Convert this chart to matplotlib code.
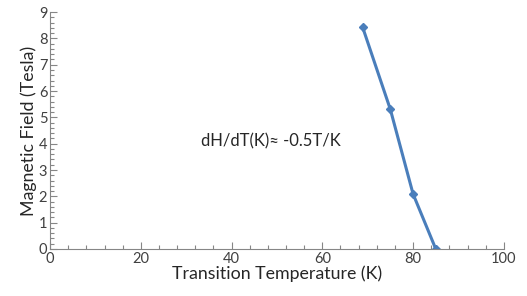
import matplotlib
matplotlib.use("Agg")
import matplotlib.pyplot as plt
from matplotlib.ticker import MultipleLocator

plt.rcParams['font.family'] = ['Lato', 'DejaVu Sans']

temp = [68.9, 75.0, 80.0, 85.0]
field = [8.42, 5.30, 2.09, 0.0]

fig = plt.figure(figsize=(5.27, 2.96), dpi=100)
ax = fig.add_axes([0.095, 0.159, 0.861, 0.800])

ax.plot(temp, field, color='#4a7ebb', linewidth=2.2, marker='D', markersize=4.5,
        markerfacecolor='#4a7ebb', markeredgecolor='#4a7ebb')

ax.set_xlim(0, 100)
ax.set_ylim(0, 9)
ax.xaxis.set_major_locator(MultipleLocator(20))
ax.xaxis.set_minor_locator(MultipleLocator(4))
ax.yaxis.set_major_locator(MultipleLocator(1))
ax.yaxis.set_minor_locator(MultipleLocator(0.2))
ax.tick_params(which='both', direction='in', color='#868686', labelsize=10.5,
               labelcolor='#404040')
ax.tick_params(which='major', length=5, width=0.8)
ax.tick_params(which='minor', length=3, width=0.8)
ax.tick_params(axis='x', pad=2)
ax.tick_params(axis='y', pad=2)

for s in ['top', 'right']:
    ax.spines[s].set_visible(False)
for s in ['left', 'bottom']:
    ax.spines[s].set_color('#868686')
    ax.spines[s].set_linewidth(0.8)

ax.set_xlabel('Transition Temperature (K)', fontsize=12.8, color='#262626', labelpad=0)
ax.set_ylabel('Magnetic Field (Tesla)', fontsize=12.8, color='#262626', labelpad=1)

ax.text(33.2, 4.1, 'dH/dT(K)≈ -0.5T/K', fontsize=12, color='#262626', va='center')

fig.savefig('out.png', dpi=100)
